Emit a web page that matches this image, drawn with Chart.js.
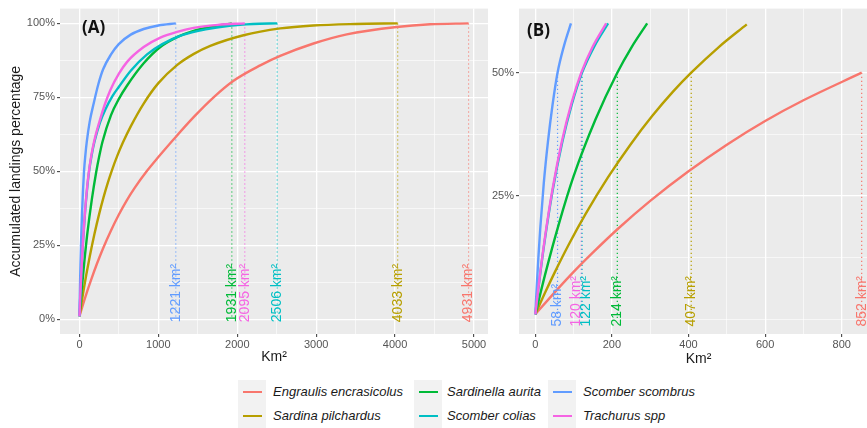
<!DOCTYPE html>
<html>
<head>
<meta charset="utf-8">
<script src="https://cdn.jsdelivr.net/npm/chart.js@4.4.1/dist/chart.umd.min.js"></script>
<style>
  html, body { margin: 0; padding: 0; background: #fff; width: 867px; height: 428px; overflow: hidden; position: relative; }
  #wrapA { position: absolute; left: 0; top: 0; }
  #wrapB { position: absolute; left: 490px; top: 0; }
  .tag { position: absolute; font-family: "Open Sans", sans-serif; font-weight: 700; font-size: 17px; color: #111; line-height: 20px; }
  .key { position: absolute; width: 28px; height: 24px; background: #f2f2f2; }
  .key span { position: absolute; left: 5px; right: 4px; top: 11px; height: 2.3px; }
  .lab { position: absolute; height: 24px; line-height: 24px; white-space: nowrap;
         font-family: "Liberation Sans", Arial, sans-serif; font-style: italic; font-size: 13px; color: #1a1a1a; }
</style>
</head>
<body>
<div id="wrapA"><canvas id="chartA" width="490" height="366"></canvas></div>
<div id="wrapB"><canvas id="chartB" width="400" height="368"></canvas></div>
<div class="tag" style="left:82px; top:17px;">(A)</div>
<div class="tag" style="left:527px; top:20px;">(B)</div>
<div id="legend"></div>
<script>
// species, in legend order
const speciesNames = ['Engraulis encrasicolus', 'Sardina pilchardus', 'Sardinella aurita', 'Scomber colias', 'Scomber scombrus', 'Trachurus spp'];
const speciesColors = ['#F8766D', '#B79F00', '#00BA38', '#00BFC4', '#619CFF', '#F564E3'];

// accumulated landings curves (km² -> share of landings)
const engraulisKm  = [0, 50, 100, 150, 218, 300, 400, 500, 600, 700, 852, 1000, 1200, 1447, 1700, 1953, 2291, 2544, 2966, 3388, 4021, 4443, 4931];
const engraulisPct = [0.01, 0.054, 0.096, 0.135, 0.185, 0.24, 0.30, 0.354, 0.402, 0.444, 0.50, 0.548, 0.61, 0.683, 0.75, 0.806, 0.858, 0.89, 0.932, 0.963, 0.988, 0.997, 1.0];

const sardinaKm  = [0, 25, 50, 87, 131, 190, 250, 305, 360, 407, 479, 552, 650, 814, 1000, 1236, 1450, 1658, 2080, 2544, 2962, 3500, 4033];
const sardinaPct = [0.01, 0.053, 0.094, 0.151, 0.213, 0.288, 0.356, 0.412, 0.462, 0.50, 0.552, 0.598, 0.652, 0.729, 0.798, 0.859, 0.897, 0.924, 0.96, 0.983, 0.993, 0.998, 1.0];

const sardinellaKm  = [0, 26, 61, 100, 157, 214, 250, 292, 400, 500, 604, 814, 1025, 1250, 1447, 1700, 1931];
const sardinellaPct = [0.01, 0.092, 0.192, 0.29, 0.405, 0.50, 0.55, 0.60, 0.69, 0.745, 0.79, 0.865, 0.92, 0.955, 0.975, 0.99, 1.0];

const coliasKm  = [0, 10, 25, 45, 70, 95, 122, 155, 190, 260, 330, 420, 498, 650, 857, 1050, 1300, 1600, 1900, 2200, 2506];
const coliasPct = [0.01, 0.075, 0.162, 0.26, 0.358, 0.435, 0.50, 0.555, 0.60, 0.665, 0.71, 0.755, 0.785, 0.84, 0.895, 0.93, 0.96, 0.98, 0.992, 0.998, 1.0];

const scombrusKm  = [0, 4, 8, 13, 22, 33, 45, 58, 75, 93, 130, 181, 240, 300, 400, 498, 650, 814, 1000, 1221];
const scombrusPct = [0.01, 0.07, 0.125, 0.185, 0.275, 0.36, 0.435, 0.50, 0.555, 0.60, 0.668, 0.73, 0.795, 0.845, 0.895, 0.93, 0.962, 0.981, 0.993, 1.0];

const trachurusKm  = [0, 10, 25, 45, 70, 95, 120, 150, 185, 250, 320, 392, 500, 604, 814, 1025, 1250, 1447, 1750, 2095];
const trachurusPct = [0.01, 0.077, 0.165, 0.264, 0.363, 0.44, 0.50, 0.553, 0.60, 0.665, 0.725, 0.775, 0.83, 0.87, 0.92, 0.952, 0.972, 0.985, 0.995, 1.0];

// area needed for 100% (panel A) and 50% (panel B)
const fullKm = [4931, 4033, 1931, 2506, 1221, 2095];
const halfKm = [852, 407, 214, 122, 58, 120];

// axis breaks
const xTicksA = [0, 1000, 2000, 3000, 4000, 5000];
const xMinorA = [500, 1500, 2500, 3500, 4500];
const yTicksA = [0, 0.25, 0.5, 0.75, 1];
const yMinorA = [0.125, 0.375, 0.625, 0.875];
const xTicksB = [0, 200, 400, 600, 800];
const xMinorB = [100, 300, 500, 700];
const yTicksB = [0.25, 0.5];
const yMinorB = [0, 0.125, 0.375];

const seriesKm = [engraulisKm, sardinaKm, sardinellaKm, coliasKm, scombrusKm, trachurusKm];
const seriesPct = [engraulisPct, sardinaPct, sardinellaPct, coliasPct, scombrusPct, trachurusPct];

const FONT = '"Liberation Sans", Arial, sans-serif';

// grey panel background like ggplot
const panelBg = {
  id: 'panelBg',
  beforeDraw(chart) {
    const { ctx, chartArea: a } = chart;
    ctx.save();
    ctx.fillStyle = '#EBEBEB';
    ctx.fillRect(a.left, a.top, a.right - a.left, a.bottom - a.top);
    ctx.restore();
  }
};

// rotated "xxx km²" labels at the foot of each dotted line
const vlineLabels = {
  id: 'vlineLabels',
  afterDatasetsDraw(chart, args, opts) {
    const { ctx, scales: { x, y } } = chart;
    ctx.save();
    ctx.font = '14px ' + FONT;
    ctx.textAlign = 'left';
    ctx.textBaseline = 'middle';
    opts.values.forEach((v, i) => {
      const px = x.getPixelForValue(v) + (opts.nudge ? opts.nudge[i] : 0);
      const py = y.getPixelForValue(opts.base);
      ctx.save();
      ctx.translate(px, py);
      ctx.rotate(-Math.PI / 2);
      ctx.fillStyle = speciesColors[i];
      ctx.fillText(v + ' km²', 0, 0);
      ctx.restore();
    });
    ctx.restore();
  }
};

function axis(min, max, major, minor, fmt, fitSize, horizontal, title) {
  const all = major.concat(minor).sort((a, b) => a - b);
  return {
    type: 'linear',
    min: min,
    max: max,
    afterBuildTicks: s => { s.ticks = all.map(v => ({ value: v })); },
    afterFit: s => { if (horizontal) s.height = fitSize; else s.width = fitSize; },
    ticks: {
      autoSkip: false,
      maxRotation: 0,
      padding: horizontal ? 1 : 2,
      color: '#555555',
      font: { family: FONT, size: 11 },
      callback: v => major.includes(v) ? fmt(v) : ''
    },
    grid: {
      color: '#ffffff',
      lineWidth: c => major.includes(c.tick.value) ? 1.3 : 0.6,
      drawTicks: true,
      tickLength: 3,
      tickWidth: 1,
      tickColor: c => major.includes(c.tick.value) ? '#333333' : 'rgba(0,0,0,0)'
    },
    border: { display: false },
    title: title ? {
      display: true,
      text: title,
      color: '#1a1a1a',
      font: { family: FONT, size: 14 },
      padding: horizontal ? { top: 0, bottom: 0 } : { top: 8, bottom: 0 }
    } : { display: false }
  };
}

function curveSets(keep) {
  return speciesNames.map((name, i) => ({
    label: name,
    data: seriesKm[i].map((x, j) => ({ x: x, y: seriesPct[i][j] })).filter(keep),
    borderColor: speciesColors[i],
    borderWidth: 2.4,
    pointRadius: 0,
    fill: false,
    cubicInterpolationMode: 'monotone',
    order: 6 - i
  }));
}

function dottedSets(values, top, bottom) {
  return values.map((v, i) => ({
    label: 'ref ' + speciesNames[i],
    data: [{ x: v, y: top }, { x: v, y: bottom }],
    borderColor: speciesColors[i],
    borderWidth: 1.2,
    borderDash: [1.2, 2.8],
    pointRadius: 0,
    fill: false,
    order: 20 + i
  }));
}

const pct = v => Math.round(v * 100) + '%';
const num = v => String(v);

new Chart(document.getElementById('chartA'), {
  type: 'line',
  data: { datasets: dottedSets(fullKm, 1, 0).concat(curveSets(() => true)) },
  options: {
    responsive: false,
    animation: false,
    devicePixelRatio: 1,
    layout: { padding: { top: 4, right: 2, bottom: 0, left: 0 } },
    scales: {
      x: axis(-246.5, 5177.5, xTicksA, xMinorA, num, 32, true, 'Km²'),
      y: axis(-0.05, 1.05, yTicksA, yMinorA, pct, 60, false, 'Accumulated landings percentage')
    },
    plugins: {
      legend: { display: false },
      tooltip: { enabled: false },
      vlineLabels: { values: fullKm, base: -0.01 }
    }
  },
  plugins: [panelBg, vlineLabels]
});

new Chart(document.getElementById('chartB'), {
  type: 'line',
  data: { datasets: dottedSets(halfKm, 0.5, 0).concat(curveSets(p => p.x <= 852 && p.y <= 0.6 + 1e-9)) },
  options: {
    responsive: false,
    animation: false,
    devicePixelRatio: 1,
    layout: { padding: { top: 7, right: 12, bottom: 0, left: 0 } },
    scales: {
      x: axis(-42.6, 894.6, xTicksB, xMinorB, num, 34, true, 'Km²'),
      y: axis(-0.03, 0.63, yTicksB, yMinorB, pct, 29, false, null)
    },
    plugins: {
      legend: { display: false },
      tooltip: { enabled: false },
      vlineLabels: { values: halfKm, base: -0.015, nudge: [0, 0, 0, 4, 0, -5] }
    }
  },
  plugins: [panelBg, vlineLabels]
});

// bottom legend, two rows filled column by column
const legendKeyLeft = [238, 414, 548];
const legendTextLeft = [273, 447, 583];
const legendRowTop = [380, 404];
const legend = document.getElementById('legend');
speciesNames.forEach((name, i) => {
  const col = Math.floor(i / 2), row = i % 2;
  const key = document.createElement('div');
  key.className = 'key';
  key.style.left = legendKeyLeft[col] + 'px';
  key.style.top = legendRowTop[row] + 'px';
  const line = document.createElement('span');
  line.style.background = speciesColors[i];
  key.appendChild(line);
  legend.appendChild(key);
  const lab = document.createElement('div');
  lab.className = 'lab';
  lab.style.left = legendTextLeft[col] + 'px';
  lab.style.top = legendRowTop[row] + 'px';
  lab.textContent = name;
  legend.appendChild(lab);
});
</script>
</body>
</html>
